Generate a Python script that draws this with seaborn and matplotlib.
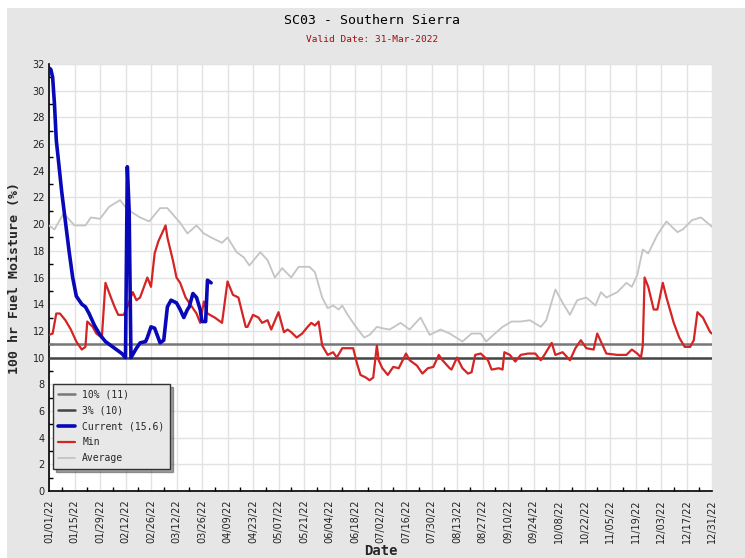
import pandas as pd
import numpy as np
import matplotlib
matplotlib.use("Agg")
import matplotlib.pyplot as plt
import matplotlib.dates as mdates
import seaborn as sns

sns.set_theme(style="white")
plt.rcParams['font.family'] = ['DejaVu Sans']

# values (day of year from 01/01/22, percent)
avg_day = [0, 3, 8, 14, 20, 23, 28, 33, 39, 43, 50, 55, 61, 65, 72, 76, 81, 85, 89, 95,
           98, 103, 107, 110, 116, 120, 124, 128, 133, 137, 143, 146, 150, 153, 156, 159,
           161, 164, 168, 173, 176, 180, 183, 187, 193, 198, 204, 209, 215, 220, 227, 232,
           237, 240, 244, 249, 254, 259, 264, 270, 273, 278, 282, 286, 290, 295, 300, 303,
           306, 312, 317, 320, 323, 326, 329, 334, 339, 345, 348, 353, 358, 364]
avg_val = [19.9, 19.6, 20.8, 19.9, 19.9, 20.5, 20.4, 21.3, 21.8, 21.1, 20.5, 20.2, 21.2,
           21.2, 20.1, 19.3, 19.9, 19.3, 19.0, 18.6, 19.0, 17.9, 17.5, 16.9, 17.9, 17.3,
           16.0, 16.7, 16.0, 16.8, 16.8, 16.4, 14.5, 13.7, 13.9, 13.6, 13.9, 13.2, 12.4,
           11.5, 11.7, 12.3, 12.2, 12.1, 12.6, 12.1, 13.0, 11.7, 12.1, 11.8, 11.2, 11.8,
           11.8, 11.2, 11.7, 12.3, 12.7, 12.7, 12.8, 12.3, 12.8, 15.1, 14.1, 13.2, 14.3,
           14.5, 13.9, 14.9, 14.5, 14.9, 15.6, 15.3, 16.2, 18.1, 17.8, 19.2, 20.2, 19.4,
           19.6, 20.3, 20.5, 19.8]

min_day = [0, 2, 4, 6, 9, 12, 15, 18, 20, 21, 24, 26, 29, 31, 34, 36, 38, 41, 43, 46,
           48, 50, 54, 56, 58, 60, 62, 64, 65, 68, 70, 72, 75, 77, 81, 83, 85, 87, 91, 95,
           98, 101, 104, 108, 109, 112, 115, 117, 120, 122, 126, 129, 131, 133, 136, 139,
           142, 144, 146, 148, 150, 153, 156, 158, 161, 164, 167, 169, 171, 174, 176, 178,
           180, 181, 183, 186, 189, 192, 196, 198, 202, 205, 208, 211, 214, 216, 220, 221,
           224, 227, 230, 232, 234, 237, 241, 243, 247, 249, 250, 253, 256, 259, 263, 267,
           270, 272, 276, 278, 282, 286, 289, 292, 295, 299, 301, 303, 306, 312, 317, 320,
           323, 325, 326, 327, 329, 332, 334, 337, 339, 343, 346, 349, 352, 354, 356, 359,
           363, 364]
min_val = [11.7, 11.8, 13.3, 13.3, 12.8, 12.1, 11.2, 10.6, 10.8, 12.7, 12.3, 11.8, 11.5,
           15.6, 14.5, 13.8, 13.2, 13.2, 13.8, 14.9, 14.3, 14.5, 16.0, 15.3, 17.8, 18.7,
           19.3, 19.9, 19.0, 17.3, 16.0, 15.6, 14.5, 14.1, 13.3, 12.6, 14.2, 13.3, 13.0,
           12.6, 15.7, 14.7, 14.5, 12.3, 12.3, 13.2, 13.0, 12.6, 12.8, 12.1, 13.4, 11.9,
           12.1, 11.9, 11.5, 11.8, 12.3, 12.6, 12.4, 12.7, 10.9, 10.2, 10.4, 10.0, 10.7,
           10.7, 10.7, 9.6, 8.7, 8.5, 8.3, 8.5, 10.9, 9.8, 9.2, 8.7, 9.3, 9.2, 10.3, 9.8,
           9.4, 8.8, 9.2, 9.3, 10.2, 9.8, 9.2, 9.1, 10.0, 9.2, 8.8, 8.9, 10.2, 10.3, 9.8,
           9.1, 9.2, 9.1, 10.4, 10.2, 9.7, 10.2, 10.3, 10.3, 9.8, 10.2, 11.1, 10.2, 10.4,
           9.8, 10.7, 11.3, 10.7, 10.6, 11.8, 11.2, 10.3, 10.2, 10.2, 10.6, 10.3, 10.0,
           10.9, 16.0, 15.3, 13.6, 13.6, 15.6, 14.5, 12.6, 11.5, 10.8, 10.8, 11.3, 13.4,
           13.0, 11.9, 11.8]

cur_day = [0, 1, 2, 3, 4, 6, 7, 9, 11, 13, 15, 18, 20, 22, 25, 28, 31, 34, 37, 40, 42,
           43, 44, 45, 48, 50, 53, 54, 56, 58, 61, 63, 65, 67, 70, 72, 74, 76, 77, 79, 81,
           83, 84, 86, 87, 89]
cur_val = [31.7, 31.6, 31.0, 29.0, 26.3, 23.7, 22.4, 20.2, 18.0, 16.0, 14.6, 14.0, 13.8,
           13.3, 12.4, 11.7, 11.2, 10.9, 10.6, 10.3, 10.0, 24.3, 21.0, 10.0, 10.7, 11.1,
           11.2, 11.5, 12.3, 12.2, 11.1, 11.3, 13.8, 14.3, 14.1, 13.6, 13.0, 13.6, 13.8,
           14.8, 14.5, 13.6, 12.7, 12.7, 15.8, 15.6]

pct10 = 11
pct3 = 10
current_now = 15.6

start = pd.Timestamp("2022-01-01")
to_dates = lambda days: start + pd.to_timedelta(days, unit="D")
avg_df = pd.DataFrame({"Date": to_dates(avg_day), "Moisture": avg_val})
min_df = pd.DataFrame({"Date": to_dates(min_day), "Moisture": min_val})
cur_df = pd.DataFrame({"Date": to_dates(cur_day), "Moisture": cur_val})

fig = plt.figure(figsize=(7.45, 5.58), dpi=100, facecolor="white")
fig.add_artist(plt.Rectangle((7 / 745, 0), 1, 550 / 558, transform=fig.transFigure,
                             facecolor="#e6e6e6", edgecolor="none", zorder=-10))
ax = fig.add_axes([49 / 745, 67 / 558, 663 / 745, 427 / 558])
ax.set_facecolor("white")

sns.lineplot(data=avg_df, x="Date", y="Moisture", ax=ax, color="#c4c4c4", linewidth=1.3,
             label="Average", estimator=None, sort=False, zorder=3)
ax.axhline(pct10, color="#777777", linewidth=1.8, label=f"10% ({pct10})", zorder=4)
ax.axhline(pct3, color="#444444", linewidth=1.8, label=f"3% ({pct3})", zorder=4)
sns.lineplot(data=min_df, x="Date", y="Moisture", ax=ax, color="#d42424", linewidth=1.6,
             label="Min", estimator=None, sort=False, zorder=5)
sns.lineplot(data=cur_df, x="Date", y="Moisture", ax=ax, color="#0808b8", linewidth=2.6,
             label=f"Current ({current_now})", estimator=None, sort=False, zorder=6)

ax.set_xlim(start, start + pd.Timedelta(days=364))
ax.set_ylim(0, 32)
ax.set_yticks(np.arange(0, 33, 2))
ax.set_yticks(np.arange(0, 33, 1), minor=True)
ax.set_xticks(pd.date_range(start, periods=27, freq="14D"))
ax.set_xticks(pd.date_range(start, periods=53, freq="7D"), minor=True)
ax.xaxis.set_major_formatter(mdates.DateFormatter("%m/%d/%y"))
ax.tick_params(axis="x", which="major", rotation=90, labelsize=7, direction="in",
               length=6, width=1, colors="black", pad=6)
ax.tick_params(axis="y", which="major", labelsize=7, direction="in", length=6, width=1,
               colors="black", pad=3)
ax.tick_params(which="minor", direction="in", length=3, width=1, color="black",
               bottom=True, left=True)
for lab in ax.get_xticklabels() + ax.get_yticklabels():
    lab.set_color("#222222")

ax.grid(True, which="major", color="#e2e2e2", linewidth=1)
ax.set_axisbelow(True)
for s in ["top", "right"]:
    ax.spines[s].set_visible(False)
for s in ["left", "bottom"]:
    ax.spines[s].set_color("black")
    ax.spines[s].set_linewidth(1.2)

ax.set_xlabel("Date", family="DejaVu Sans Mono", fontsize=10, fontweight="bold",
              labelpad=1)
ax.set_ylabel("100 hr Fuel Moisture (%)", family="DejaVu Sans Mono", fontsize=9.5,
              fontweight="bold", labelpad=8)

fig.text(0.5, 1 - 20 / 558, "SC03 - Southern Sierra", ha="center", va="center",
         family="DejaVu Sans Mono", fontsize=9.5, color="black")
fig.text(0.5, 1 - 40 / 558, "Valid Date: 31-Mar-2022", ha="center", va="center",
         family="DejaVu Sans Mono", fontsize=6.8, color="#9a1010")

handles, labels = ax.get_legend_handles_labels()
order = [labels.index(l) for l in [f"10% ({pct10})", f"3% ({pct3})",
                                    f"Current ({current_now})", "Min", "Average"]]
leg = ax.legend([handles[i] for i in order], [labels[i] for i in order],
                loc="lower left", bbox_to_anchor=(0.006, 0.052), frameon=True,
                shadow=True, fancybox=False, prop={"family": "DejaVu Sans Mono", "size": 7},
                handlelength=1.7, labelspacing=0.62, borderpad=0.55, handletextpad=0.75,
                borderaxespad=0)
leg.get_frame().set_facecolor("#e8e8e8")
leg.get_frame().set_edgecolor("#333333")
leg.get_frame().set_linewidth(1.0)
leg.get_frame().set_alpha(1)

fig.savefig("out.png", dpi=100, facecolor=fig.get_facecolor())
